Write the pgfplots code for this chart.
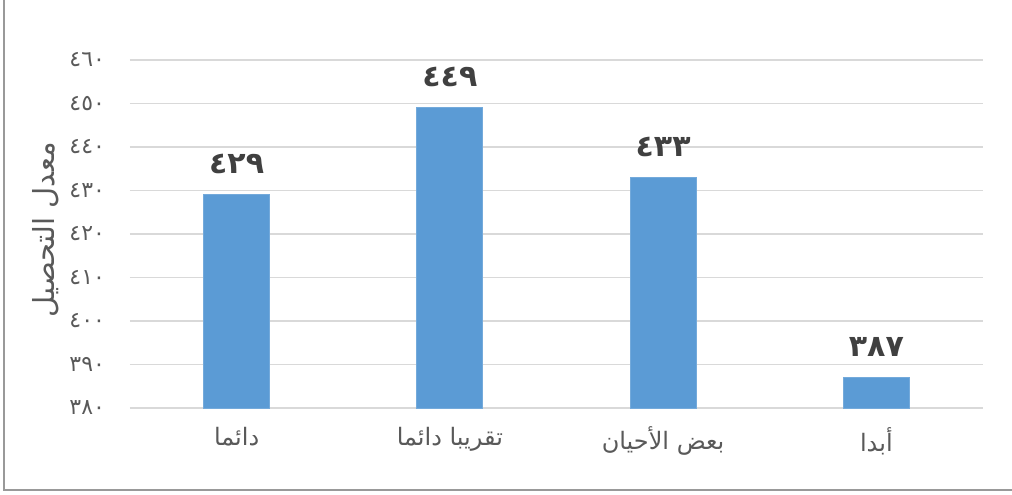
\documentclass[border=0pt]{standalone}
\usepackage{pgfplots}
\pgfplotsset{compat=1.18}
\usepackage{fontspec}
\setmainfont{DejaVu Sans}
\newfontfamily\arabicfont[Script=Arabic]{DejaVu Sans}
\TeXXeTstate=1
\definecolor{barblue}{HTML}{5B9BD5}
\definecolor{gridgray}{HTML}{D9D9D9}
\definecolor{txtgray}{HTML}{595959}
\definecolor{lblgray}{HTML}{404040}
\begin{document}
\begin{tikzpicture}
\begin{axis}[
    at={(0,0)}, anchor=south west,
    scale only axis,
    width=426.5pt, height=174pt,
    xmin=-0.5, xmax=3.5,
    ymin=380, ymax=460,
    ytick={380,390,...,460},
    yticklabels={٣٨٠,٣٩٠,٤٠٠,٤١٠,٤٢٠,٤٣٠,٤٤٠,٤٥٠,٤٦٠},
    xtick={0,1,2,3},
    xticklabels={
        {\beginR دائما\endR},
        {\beginR تقريبا دائما\endR},
        {\beginR بعض الأحيان\endR},
        {\beginR أبدا\endR}},
    axis line style={draw=none},
    major tick length=0pt,
    ymajorgrids,
    grid style={gridgray, line width=0.9pt},
    yticklabel style={font=\arabicfont\fontsize{11}{13}\selectfont, text=txtgray, xshift=-9pt},
    xticklabel style={font=\arabicfont\fontsize{12}{14}\selectfont, text=txtgray, yshift=-6pt},
    ylabel={\arabicfont\beginR معدل التحصيل\endR},
    ylabel style={font=\arabicfont\fontsize{14.5}{16}\selectfont, text=txtgray,
        at={(-42pt,89pt)}, rotate=0, anchor=center},
    ybar, bar width=33pt,
    point meta=explicit symbolic,
    nodes near coords,
    nodes near coords style={font=\arabicfont\bfseries\fontsize{15}{17}\selectfont, text=lblgray, anchor=south, yshift=7pt},
    clip=false,
]
\addplot[fill=barblue, draw=barblue!85!white] coordinates {
    (0,429) [٤٢٩]
    (1,449) [٤٤٩]
    (2,433) [٤٣٣]
    (3,387) [٣٨٧]
};
\end{axis}
\draw[gray!80, line width=0.7pt] (-63pt,250pt) -- (-63pt,-41pt) -- (460pt,-41pt);
\pgfresetboundingbox
\path[use as bounding box] (-65pt,-43pt) rectangle (441pt,204pt);
\end{tikzpicture}
\end{document}
